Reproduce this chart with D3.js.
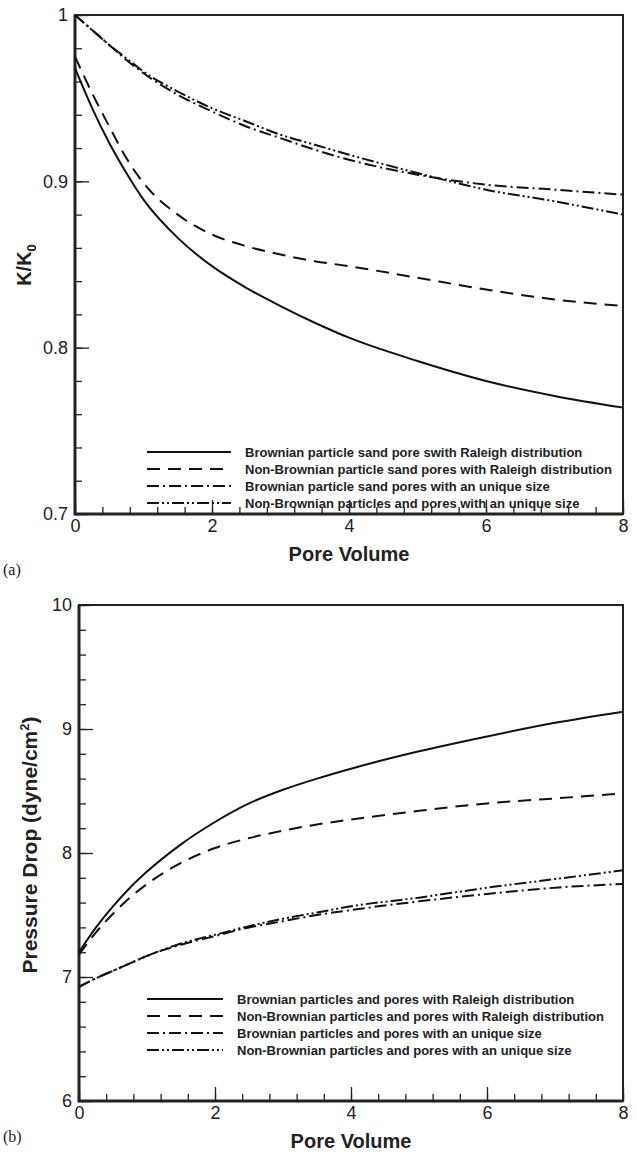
<!DOCTYPE html>
<html>
<head>
<meta charset="utf-8">
<script src="https://cdn.jsdelivr.net/npm/d3@7"></script>
<style>
  body { margin: 0; background: #fff; }
  svg { display: block; font-family: "Liberation Sans", Arial, sans-serif; }
</style>
</head>
<body>
<script>
  // pore volume samples, shared by every curve
  const poreVolume = [0, 0.25, 0.5, 0.75, 1, 1.5, 2, 2.5, 3, 3.5, 4, 5, 6, 7, 8];

  // panel (a): K/K0
  const kBrownRal    = [0.968, 0.944, 0.923, 0.905, 0.889, 0.866, 0.849, 0.836, 0.825, 0.815, 0.806, 0.792, 0.780, 0.771, 0.764];
  const kNonBrownRal = [0.975, 0.953, 0.933, 0.914, 0.899, 0.880, 0.868, 0.861, 0.856, 0.852, 0.849, 0.842, 0.835, 0.829, 0.825];
  const kBrownUni    = [1.000, 0.991, 0.982, 0.973, 0.965, 0.952, 0.942, 0.933, 0.926, 0.919, 0.913, 0.904, 0.898, 0.895, 0.892];
  const kNonBrownUni = [1.000, 0.991, 0.982, 0.974, 0.966, 0.954, 0.944, 0.936, 0.928, 0.922, 0.916, 0.905, 0.895, 0.888, 0.880];

  // panel (b): pressure drop
  const pBrownRal    = [7.20, 7.40, 7.57, 7.72, 7.85, 8.07, 8.25, 8.40, 8.51, 8.60, 8.68, 8.82, 8.94, 9.05, 9.14];
  const pNonBrownRal = [7.18, 7.36, 7.51, 7.64, 7.75, 7.92, 8.04, 8.12, 8.18, 8.23, 8.27, 8.34, 8.40, 8.44, 8.48];
  const pBrownUni    = [6.92, 6.99, 7.05, 7.11, 7.17, 7.26, 7.33, 7.40, 7.45, 7.50, 7.54, 7.61, 7.67, 7.72, 7.75];
  const pNonBrownUni = [6.92, 6.99, 7.05, 7.11, 7.17, 7.27, 7.34, 7.41, 7.47, 7.52, 7.57, 7.64, 7.72, 7.79, 7.86];

  const xTicks = [0, 2, 4, 6, 8];
  const kTicks = [0.7, 0.8, 0.9, 1];
  const pTicks = [6, 7, 8, 9, 10];

  const legendA = [
    "Brownian particle sand pore swith Raleigh distribution",
    "Non-Brownian particle sand pores with Raleigh distribution",
    "Brownian particle sand pores with an unique size",
    "Non-Brownian particles and pores with an unique size"
  ];
  const legendB = [
    "Brownian particles and pores with Raleigh distribution",
    "Non-Brownian particles and pores with Raleigh distribution",
    "Brownian particles and pores with an unique size",
    "Non-Brownian particles and pores with an unique size"
  ];

  const dashes = [null, "13,8", "12,4,2,4", "12,3,2,3,2,3"];

  const svg = d3.select("body").append("svg")
    .attr("width", 637)
    .attr("height", 1152);

  function panel(opt) {
    const x = d3.scaleLinear().domain([0, 8]).range([opt.left, 623]);
    const y = d3.scaleLinear().domain(opt.yDomain).range([opt.bottom, opt.top]);
    const g = svg.append("g");

    // minor ticks
    g.append("g")
      .attr("transform", `translate(0,${opt.bottom})`)
      .call(d3.axisBottom(x).tickValues(d3.range(0, 8.001, 0.4)).tickSize(-7).tickFormat(""))
      .call(a => a.select(".domain").remove());
    g.append("g")
      .attr("transform", `translate(${opt.left},0)`)
      .call(d3.axisLeft(y).tickValues(opt.minor).tickSize(-7).tickFormat(""))
      .call(a => a.select(".domain").remove());

    // major ticks + labels
    g.append("g")
      .attr("transform", `translate(0,${opt.bottom})`)
      .call(d3.axisBottom(x).tickValues(xTicks).tickSizeInner(-14).tickSizeOuter(0).tickPadding(5).tickFormat(d3.format("d")))
      .call(a => a.select(".domain").remove());
    g.append("g")
      .attr("transform", `translate(${opt.left},0)`)
      .call(d3.axisLeft(y).tickValues(opt.ticks).tickSizeInner(-14).tickSizeOuter(0).tickPadding(7).tickFormat(opt.fmt))
      .call(a => a.select(".domain").remove());

    g.selectAll(".tick line").attr("stroke", "#222").attr("stroke-width", 1.3);
    g.selectAll(".tick text")
      .attr("font-family", "Liberation Sans, Arial, sans-serif")
      .attr("font-size", 18)
      .attr("fill", "#222");

    // frame
    g.append("rect")
      .attr("x", opt.left).attr("y", opt.top)
      .attr("width", 623 - opt.left).attr("height", opt.bottom - opt.top)
      .attr("fill", "none").attr("stroke", "#222").attr("stroke-width", 2);
    g.append("path")
      .attr("d", `M${opt.left},${opt.top}V${opt.bottom}H623`)
      .attr("fill", "none").attr("stroke", "#222").attr("stroke-width", 3);

    const line = d3.line()
      .x((d, i) => x(poreVolume[i]))
      .y(d => y(d))
      .curve(d3.curveMonotoneX);

    opt.series.forEach((s, i) => {
      g.append("path")
        .datum(s)
        .attr("d", line)
        .attr("fill", "none")
        .attr("stroke", "#111")
        .attr("stroke-width", 2)
        .attr("stroke-dasharray", dashes[i]);
    });

    // legend
    const lg = g.append("g");
    opt.legend.forEach((t, i) => {
      const ly = opt.legendY + i * 17;
      lg.append("line")
        .attr("x1", 147).attr("x2", opt.textX - 14)
        .attr("y1", ly).attr("y2", ly)
        .attr("stroke", "#111").attr("stroke-width", 2)
        .attr("stroke-dasharray", dashes[i]);
      lg.append("text")
        .attr("x", opt.textX).attr("y", ly + 4.5)
        .attr("font-size", 13).attr("font-weight", "bold").attr("fill", "#222")
        .text(t);
    });

    // x title
    g.append("text")
      .attr("x", (opt.left + 623) / 2).attr("y", opt.bottom + 47)
      .attr("text-anchor", "middle")
      .attr("font-size", 20).attr("font-weight", "bold").attr("fill", "#222")
      .text("Pore Volume");

    // panel letter
    g.append("text")
      .attr("x", 3).attr("y", opt.letterY)
      .attr("font-family", "Liberation Serif, Times New Roman, serif")
      .attr("font-size", 16).attr("fill", "#222")
      .text(opt.letter);

    return g;
  }

  const ga = panel({
    left: 75, top: 15, bottom: 514,
    yDomain: [0.7, 1],
    ticks: kTicks,
    minor: d3.range(0.7, 1.0001, 0.02),
    fmt: d => d === 1 ? "1" : d3.format(".1f")(d),
    series: [kBrownRal, kNonBrownRal, kBrownUni, kNonBrownUni],
    legend: legendA, legendY: 452, textX: 245,
    letter: "(a)", letterY: 575
  });

  const ylabA = ga.append("text")
    .attr("transform", "translate(31,265) rotate(-90)")
    .attr("text-anchor", "middle")
    .attr("font-size", 20).attr("font-weight", "bold").attr("fill", "#222");
  ylabA.append("tspan").text("K/K");
  ylabA.append("tspan").attr("font-size", 13).attr("dy", 5).text("0");

  const gb = panel({
    left: 79, top: 605, bottom: 1101,
    yDomain: [6, 10],
    ticks: pTicks,
    minor: d3.range(6, 10.001, 0.2),
    fmt: d3.format("d"),
    series: [pBrownRal, pNonBrownRal, pBrownUni, pNonBrownUni],
    legend: legendB, legendY: 999, textX: 237,
    letter: "(b)", letterY: 1142
  });

  const ylabB = gb.append("text")
    .attr("transform", "translate(37,845) rotate(-90)")
    .attr("text-anchor", "middle")
    .attr("font-size", 21).attr("font-weight", "bold").attr("fill", "#222");
  ylabB.append("tspan").text("Pressure Drop (dyne/cm");
  ylabB.append("tspan").attr("font-size", 13).attr("dy", -8).text("2");
  ylabB.append("tspan").attr("dy", 8).text(")");
</script>
</body>
</html>
